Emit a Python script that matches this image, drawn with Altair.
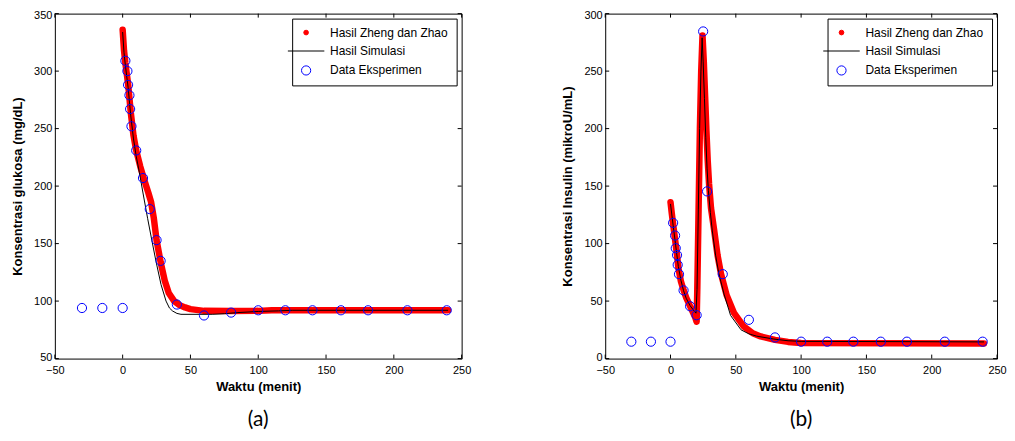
import altair as alt
import pandas as pd

# ---------------- data ----------------
series_names = ["Hasil Zheng dan Zhao", "Hasil Simulasi", "Data Eksperimen"]

time_exp = [-30, -15, 0, 2, 3.5, 4, 5, 5.5, 6.5, 10, 15, 20, 25, 28, 40, 60, 80, 100, 120, 140, 161, 181, 210, 239]
glucose_exp = [94, 94, 94, 309, 300, 288, 279, 267, 252, 231, 207, 180, 153, 135, 97, 87.5, 90, 92, 92, 92, 92, 92, 92, 92]
insulin_exp = [14.7, 14.7, 14.7, 118, 107, 96, 90, 81.5, 73.4, 59.3, 45.5, 37.7, 284.5, 145.4, 73.4, 33.7, 18.4, 14.7, 14.7, 14.7, 14.7, 14.7, 14.7, 14.7]

t_zheng_g = [0, 1, 2, 4, 6, 8, 10, 13, 16, 19, 21, 23, 25, 28, 31, 34, 38, 42, 46, 50, 60, 80, 100, 110, 240]
g_zheng = [336, 318, 307, 289, 264, 244, 231, 217, 205, 194, 186, 172, 153, 134, 118, 107, 100, 96.5, 94.5, 93, 91.5, 91.3, 91.5, 92, 92]

t_sim_g = [0, 1, 2, 4, 6, 8, 10, 12.3, 15, 18.4, 21.5, 24.6, 28.3, 32, 34.5, 36.8, 40, 43, 66, 75, 85, 100, 115, 125, 240]
g_sim = [334, 316, 305, 286, 261, 241, 226, 212, 194, 172, 153, 134.5, 114.4, 100, 94, 91.4, 89.3, 88.5, 88.5, 89, 90, 91, 91.5, 92, 92]

t_zheng_i = [0, 1, 2, 3, 4, 5, 6, 7, 8, 10, 12, 15, 17, 19, 20, 20.5, 21.5, 22.5, 23.5, 24.5, 25.5, 26.5, 27.5, 28.5, 29.5, 31, 33.5, 36, 38.6, 43, 48.7, 56, 63, 69, 80, 90, 100, 240]
i_zheng = [136, 126, 117, 108, 99, 90, 79, 73, 67, 59.5, 53, 45.5, 40.5, 35.5, 32, 60, 130, 200, 250, 281, 258, 228, 198, 172, 152, 131, 111, 90, 74, 55, 39.5, 28, 22, 19.3, 16.3, 14.5, 13.5, 13.2]

t_sim_i = [0, 2, 4, 6, 8, 10, 12, 15, 18, 19.5, 20.3, 21.3, 22.3, 23.3, 24.2, 25, 26, 27, 28, 29, 30.5, 32, 34.5, 37, 41, 46, 54, 60, 66, 79, 90, 100, 240]
i_sim = [134.5, 116, 98, 80, 68, 59, 52.5, 46, 41.5, 39.5, 60, 130, 200, 250, 279, 258, 226, 192, 165, 146, 127, 111, 90, 74, 56, 37.5, 25, 21.5, 19.5, 17, 15.5, 15, 14.5]

x_ticks = [-50, 0, 50, 100, 150, 200, 250]
y_ticks_g = [50, 100, 150, 200, 250, 300, 350]
y_ticks_i = [0, 50, 100, 150, 200, 250, 300]

# ---------------- style ----------------
FONT = "Liberation Sans Narrow, Liberation Sans, Arial"
TFONT = "Liberation Sans, Arial"
H = 346

shape_range = ["circle", "M-5,0L5,0", "circle"]
size_range = [22, 85, 58]
fill_range = ["#ff0000", "transparent", "transparent"]
stroke_range = ["#ff0000", "#000000", "#0000ff"]


def panel(t_z, v_z, t_s, v_s, v_exp, ydom, yticks, ytitle, label, W):
    xs = alt.Scale(domain=[-50, 250], nice=False, zero=False)
    ys = alt.Scale(domain=ydom, nice=False, zero=False)
    xax = alt.Axis(title="Waktu (menit)", values=x_ticks, format="d", labelFlush=False)
    yax = alt.Axis(title=ytitle, values=yticks, format="d", labelFlush=True, labelFlushOffset=4)

    red = alt.Chart(pd.DataFrame({"t": t_z, "v": v_z})).mark_line(
        color="#ff0000", strokeWidth=6.5, strokeCap="round", strokeJoin="round"
    ).encode(x=alt.X("t:Q", scale=xs, axis=xax), y=alt.Y("v:Q", scale=ys, axis=yax))

    black = alt.Chart(pd.DataFrame({"t": t_s, "v": v_s})).mark_line(
        color="black", strokeWidth=1
    ).encode(x=alt.X("t:Q", scale=xs), y=alt.Y("v:Q", scale=ys))

    exp_df = pd.DataFrame({"t": time_exp, "v": v_exp, "series": ["Data Eksperimen"] * len(time_exp)})
    pts = alt.Chart(exp_df).mark_point(strokeWidth=1, opacity=1).encode(
        x=alt.X("t:Q", scale=xs),
        y=alt.Y("v:Q", scale=ys),
        shape=alt.Shape("series:N", scale=alt.Scale(domain=series_names, range=shape_range),
                        legend=alt.Legend(title=None)),
        size=alt.Size("series:N", scale=alt.Scale(domain=series_names, range=size_range),
                      legend=alt.Legend(title=None)),
        fill=alt.Fill("series:N", scale=alt.Scale(domain=series_names, range=fill_range),
                      legend=alt.Legend(title=None)),
        stroke=alt.Stroke("series:N", scale=alt.Scale(domain=series_names, range=stroke_range),
                          legend=alt.Legend(title=None)),
    )

    xt = pd.DataFrame({"t": x_ticks})
    yt = pd.DataFrame({"v": yticks})
    tick_b = alt.Chart(xt).mark_rule(color="black", strokeWidth=1).encode(
        x=alt.X("t:Q", scale=xs), y=alt.value(H), y2=alt.value(H - 4))
    tick_t = alt.Chart(xt).mark_rule(color="black", strokeWidth=1).encode(
        x=alt.X("t:Q", scale=xs), y=alt.value(0), y2=alt.value(4))
    tick_l = alt.Chart(yt).mark_rule(color="black", strokeWidth=1).encode(
        y=alt.Y("v:Q", scale=ys), x=alt.value(0), x2=alt.value(4))
    tick_r = alt.Chart(yt).mark_rule(color="black", strokeWidth=1).encode(
        y=alt.Y("v:Q", scale=ys), x=alt.value(W), x2=alt.value(W - 4))

    lab = alt.Chart(pd.DataFrame({"lab": [label]})).mark_text(
        fontSize=21, font="Lato", color="black"
    ).encode(text="lab:N", x=alt.value(W / 2), y=alt.value(H + 62))

    return alt.layer(red, black, pts, tick_b, tick_t, tick_l, tick_r, lab).properties(width=W, height=H)


left = panel(t_zheng_g, g_zheng, t_sim_g, g_sim, glucose_exp, [50, 350], y_ticks_g,
             "Konsentrasi glukosa (mg/dL)", "(a)", 408)
right = panel(t_zheng_i, i_zheng, t_sim_i, i_sim, insulin_exp, [0, 300], y_ticks_i,
              "Konsentrasi Insulin (mikroU/mL)", "(b)", 393)

chart = alt.hconcat(left, right, spacing=90).resolve_scale(
    x="independent", y="independent", shape="independent", size="independent",
    fill="independent", stroke="independent"
).properties(padding={"left": 3, "top": 0, "right": 0, "bottom": 0}).configure_view(
    stroke="black", strokeWidth=1
).configure_axis(
    domain=False, ticks=False, grid=False,
    labelFont=FONT, labelFontSize=11, labelColor="black",
    titleFont=TFONT, titleFontSize=13, titleFontWeight="bold", titleColor="black",
).configure_axisX(titlePadding=5, labelPadding=6).configure_axisY(
    titlePadding=9, labelPadding=3
).configure_legend(
    orient="top-right", offset=5, padding=8, strokeColor="black", fillColor="white",
    labelFont=FONT, labelFontSize=12, labelColor="black", labelOffset=18,
    rowPadding=6.5, symbolStrokeWidth=1,
)

chart.save("out.html", embed_options={"renderer": "svg", "actions": False})
